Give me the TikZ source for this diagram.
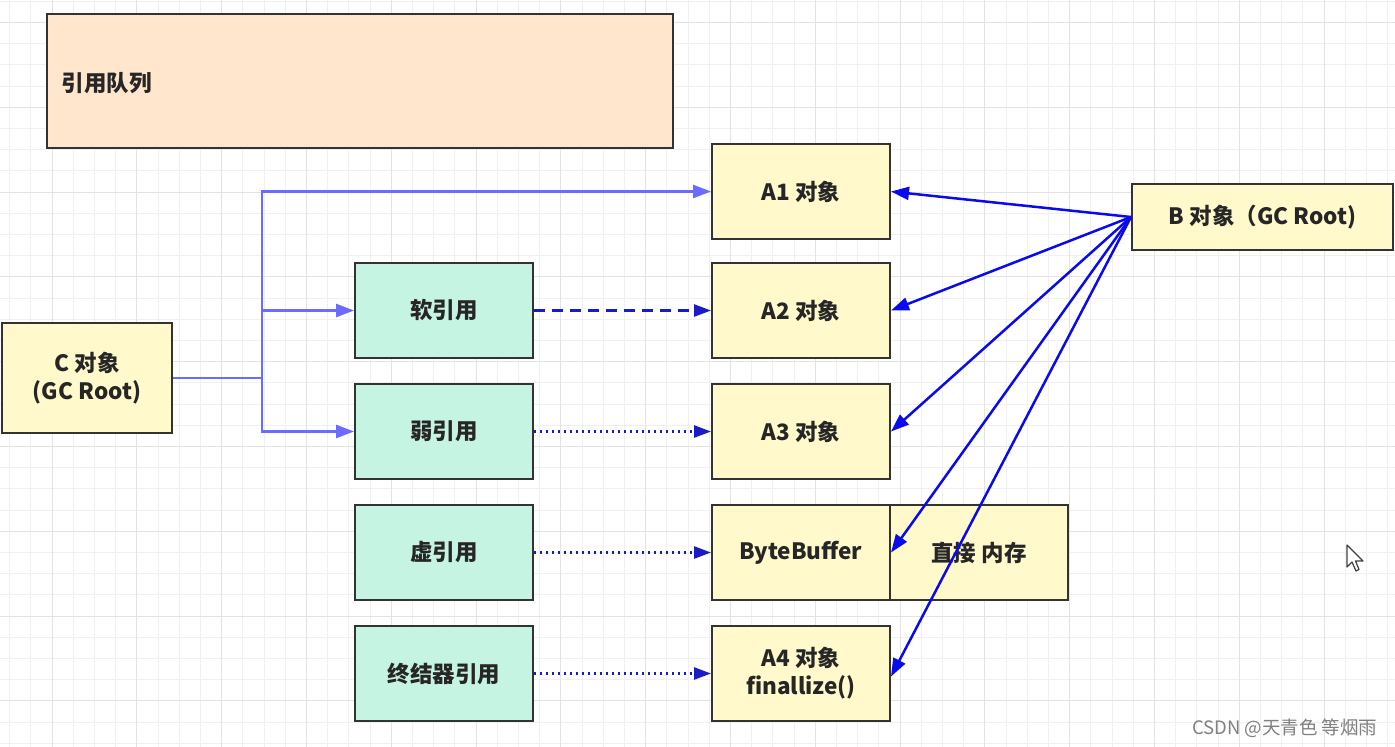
\documentclass[tikz,border=0pt]{standalone}
\usepackage{fontspec}
\setmainfont{Noto Sans CJK SC}
\usetikzlibrary{arrows.meta}
\definecolor{boxline}{HTML}{333333}
\definecolor{peach}{HTML}{FFE6CC}
\definecolor{ylw}{HTML}{FFF9CC}
\definecolor{mint}{HTML}{C6F4E2}
\definecolor{lightblue}{HTML}{6B6BFF}
\definecolor{darkblue}{HTML}{1A1AC8}
\definecolor{brightblue}{HTML}{0A0AEE}
\definecolor{gridminor}{HTML}{F0F0F0}
\definecolor{gridmajor}{HTML}{E3E3E3}
\tikzset{
  basebox/.style={draw=boxline, line width=2pt, minimum width=178pt, minimum height=95pt,
    inner sep=2pt, align=center, font=\fontsize{22.5}{28}\selectfont\bfseries, text=black!85},
  objbox/.style={basebox, fill=ylw},
  refbox/.style={basebox, fill=mint},
  branch/.style={draw=lightblue, line width=2.5pt, -{Triangle[length=18pt,width=13pt]}},
  refline/.style={draw=darkblue, line width=2.4pt, -{Triangle[length=17pt,width=12pt]}},
  dotline/.style={refline, dash pattern=on 2pt off 4pt},
  dashline/.style={refline, dash pattern=on 11pt off 7pt},
  rootline/.style={draw=brightblue, line width=2.5pt, -{Triangle[length=18pt,width=13pt]}},
}
\begin{document}
\begin{tikzpicture}[x=1pt,y=-1pt]
\useasboundingbox (0,0) rectangle (1395,747);
\fill[white] (0,0) rectangle (1395,747);
% grid
\foreach \i in {0,...,65} \draw[gridminor, line width=1pt] ({9.6+21.2*\i},0) -- ({9.6+21.2*\i},747);
\foreach \i in {0,...,35} \draw[gridminor, line width=1pt] (0,{1.2+21.2*\i}) -- (1395,{1.2+21.2*\i});
\foreach \i in {0,...,16} \draw[gridmajor, line width=1pt] ({52+84.8*\i},0) -- ({52+84.8*\i},747);
\foreach \i in {0,...,8} \draw[gridmajor, line width=1pt] (0,{22.4+84.8*\i}) -- (1395,{22.4+84.8*\i});

% queue
\node[basebox, fill=peach, minimum width=626pt, minimum height=134pt] (queue) at (360,81) {};
\node[anchor=west, font=\fontsize{22.5}{28}\selectfont\bfseries, text=black!85] (qlabel) at (58,83) {引用队列};

% objects
\node[objbox] (A1) at (801,191.5) {A1 对象};
\node[objbox] (A2) at (801,310.5) {A2 对象};
\node[objbox] (A3) at (801,431.5) {A3 对象};
\node[objbox] (BB) at (801,552.5) {ByteBuffer};
\node[objbox] (DM) at (979,552.5) {直接 内存};
\node[objbox] (A4) at (801,673.5) {A4 对象\\finallize()};
\node[objbox, minimum width=261pt, minimum height=66pt] (B) at (1262.5,217) {B 对象（GC Root)};
\node[objbox, minimum width=170pt, minimum height=110pt] (C) at (87,378) {C 对象\\(GC Root)};

% references
\node[refbox] (soft) at (444,310.5) {软引用};
\node[refbox] (weak) at (444,431.5) {弱引用};
\node[refbox] (phantom) at (444,552.5) {虚引用};
\node[refbox] (final) at (444,673.5) {终结器引用};

% C connectors
\coordinate (trunk) at (262,378);
\draw[draw=lightblue, line width=2.5pt] (C.east) -- (trunk);
\draw[branch] (trunk) |- (A1.west);
\draw[branch] (trunk) |- (soft.west);
\draw[branch] (trunk) |- (weak.west);

% reference lines
\draw[dashline] (soft) -- (A2);
\draw[dotline] (weak) -- (A3);
\draw[dotline] (phantom) -- (BB);
\draw[dotline] (final) -- (A4);

% B connectors
\draw[rootline] (B.west) -- (A1.east);
\draw[rootline] (B.west) -- (A2.east);
\draw[rootline] (B.west) -- (A3.east);
\draw[rootline] (B.west) -- (BB.east);
\draw[rootline] (B.west) -- ([yshift=-3pt]A4.east);

% cursor
\draw[fill=white, draw=black!75, line width=1.2pt, line join=round]
  (1347,545) -- (1347,567) -- (1352,562) -- (1356,571) -- (1359,569.5) -- (1355.5,561) -- (1363,561) -- cycle;

% watermark
\node[anchor=east, font=\fontsize{18.5}{22}\selectfont, text=black!50] (wm) at (1381,728) {CSDN @天青色 等烟雨};
\end{tikzpicture}
\end{document}
